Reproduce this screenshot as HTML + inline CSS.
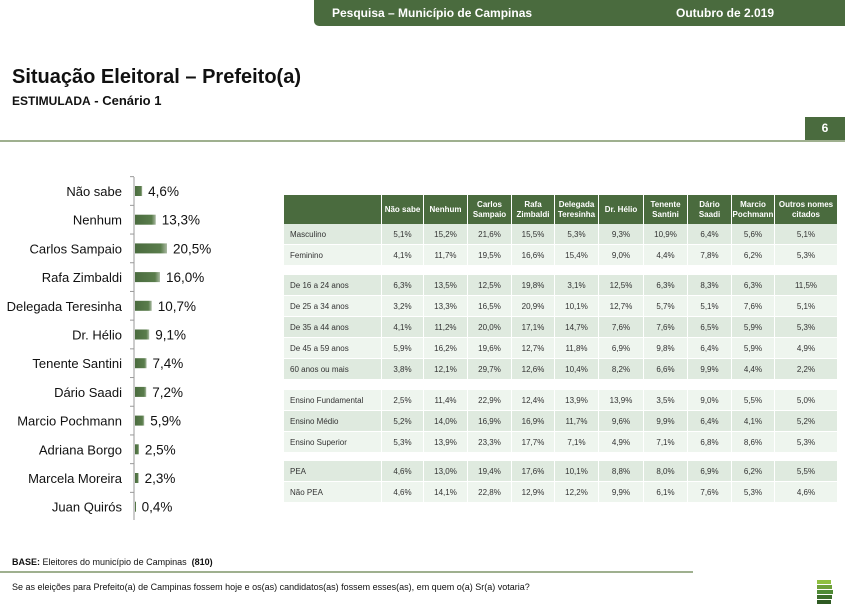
<!DOCTYPE html>
<html><head><meta charset="utf-8"><style>
body{margin:0;width:845px;height:606px;position:relative;background:#fff;font-family:"Liberation Sans",sans-serif;overflow:hidden}
.abs{position:absolute}
.hdr{left:314px;top:0;width:531px;height:26px;background:#4a6b3e;border-bottom-left-radius:5px;color:#fff;font-weight:bold;font-size:12px}
.cell{position:absolute;font-size:8px;color:#333;display:flex;align-items:center;justify-content:center;box-sizing:border-box}
.hc{background:#4a6b3e;color:#fff;font-weight:bold;text-align:center;line-height:10px}
</style></head><body>
<div class="abs hdr">
 <span class="abs" style="left:18px;top:6px">Pesquisa – Município de Campinas</span>
 <span class="abs" style="left:362px;top:6px">Outubro de 2.019</span>
</div>
<div class="abs" style="left:12px;top:66px;font-size:20px;font-weight:bold;color:#111">Situação Eleitoral – Prefeito(a)</div>
<div class="abs" style="left:12px;top:93px;font-size:13px;font-weight:bold;color:#111"><span style="font-size:12px">ESTIMULADA</span> - Cenário 1</div>
<div class="abs" style="left:805px;top:117px;width:40px;height:23px;background:#4a6b3e;color:#fff;font-weight:bold;font-size:12px;text-align:center;line-height:23px">6</div>
<div class="abs" style="left:0;top:140px;width:845px;height:2px;background:#9fb08f"></div>

<svg class="abs" style="left:0;top:170px" width="270" height="360" id="chart">
<defs><linearGradient id="bg" x1="0" y1="0" x2="1" y2="0"><stop offset="0" stop-color="#4a6b3e"/><stop offset="0.8" stop-color="#5a7d4c"/><stop offset="1" stop-color="#a8b8a0"/></linearGradient></defs>
</svg>

<div class="abs" id="table" style="left:0;top:0"></div>

<div class="abs" style="left:12px;top:557px;font-size:9px;color:#111"><b>BASE:</b> Eleitores do município de Campinas &nbsp;<b>(810)</b></div>
<div class="abs" style="left:0;top:571px;width:693px;height:2px;background:#9fb08f"></div>
<div class="abs" style="left:12px;top:582px;font-size:9px;color:#111">Se as eleições para Prefeito(a) de Campinas fossem hoje e os(as) candidatos(as) fossem esses(as), em quem o(a) Sr(a) votaria?</div>
<svg class="abs" style="left:817px;top:580px" width="16" height="26">
<rect x="0" y="0" width="14" height="4" fill="#8fbf3f"/><rect x="0" y="5" width="15" height="4" fill="#6ea03a"/><rect x="0" y="10" width="16" height="4" fill="#4f8a35"/><rect x="0" y="15" width="15" height="4" fill="#3d6e2c"/><rect x="0" y="20" width="14" height="4" fill="#2e5a22"/>
</svg>

<script>
const labels=["Não sabe","Nenhum","Carlos Sampaio","Rafa Zimbaldi","Delegada Teresinha","Dr. Hélio","Tenente Santini","Dário Saadi","Marcio Pochmann","Adriana Borgo","Marcela Moreira","Juan Quirós"];
const values=[4.6,13.3,20.5,16.0,10.7,9.1,7.4,7.2,5.9,2.5,2.3,0.4];
const ns="http://www.w3.org/2000/svg";
const svg=document.getElementById('chart');
const x0=135, pxPer=1.56, y0=21, step=28.7;
const xs=v=>v*pxPer, ys=i=>y0+i*step;
const ax=document.createElementNS(ns,'line');
ax.setAttribute('x1',x0-1);ax.setAttribute('x2',x0-1);ax.setAttribute('y1',7);ax.setAttribute('y2',350);ax.setAttribute('stroke','#999');


svg.appendChild(ax);
labels.forEach((l,i)=>{
 const y=ys(i);
 const tk=document.createElementNS(ns,'line');
 tk.setAttribute('x1',x0-5);tk.setAttribute('x2',x0-1);tk.setAttribute('y1',y-14.35);tk.setAttribute('y2',y-14.35);tk.setAttribute('stroke','#999');
 
 
 svg.appendChild(tk);
 const t=document.createElementNS(ns,'text');
 t.setAttribute('x',122);t.setAttribute('y',y+5);t.setAttribute('text-anchor','end');t.setAttribute('font-size','13');t.setAttribute('fill','#111');
 t.textContent=l;
 
 
 svg.appendChild(t);
 const r=document.createElementNS(ns,'rect');
 r.setAttribute('x',x0);r.setAttribute('y',y-5);r.setAttribute('width',Math.max(xs(values[i]),1));r.setAttribute('height',10);r.setAttribute('fill','url(#bg)');
 
 
 svg.appendChild(r);
 const v=document.createElementNS(ns,'text');
 v.setAttribute('x',x0+xs(values[i])+6);v.setAttribute('y',y+5);v.setAttribute('font-size','13.5');v.setAttribute('fill','#111');
 v.textContent=values[i].toFixed(1).replace('.',',')+'%';
 
 
 svg.appendChild(v);
});

const colHeads=["Não sabe","Nenhum","Carlos<br>Sampaio","Rafa<br>Zimbaldi","Delegada<br>Teresinha","Dr. Hélio","Tenente<br>Santini","Dário<br>Saadi","Marcio<br>Pochmann","Outros nomes<br>citados"];
const rowLabels=["Masculino","Feminino","De 16 a 24 anos","De 25 a 34 anos","De 35 a 44 anos","De 45 a 59 anos","60 anos ou mais","Ensino Fundamental","Ensino Médio","Ensino Superior","PEA","Não PEA"];
const rowData=[
["5,1%","15,2%","21,6%","15,5%","5,3%","9,3%","10,9%","6,4%","5,6%","5,1%"],
["4,1%","11,7%","19,5%","16,6%","15,4%","9,0%","4,4%","7,8%","6,2%","5,3%"],
["6,3%","13,5%","12,5%","19,8%","3,1%","12,5%","6,3%","8,3%","6,3%","11,5%"],
["3,2%","13,3%","16,5%","20,9%","10,1%","12,7%","5,7%","5,1%","7,6%","5,1%"],
["4,1%","11,2%","20,0%","17,1%","14,7%","7,6%","7,6%","6,5%","5,9%","5,3%"],
["5,9%","16,2%","19,6%","12,7%","11,8%","6,9%","9,8%","6,4%","5,9%","4,9%"],
["3,8%","12,1%","29,7%","12,6%","10,4%","8,2%","6,6%","9,9%","4,4%","2,2%"],
["2,5%","11,4%","22,9%","12,4%","13,9%","13,9%","3,5%","9,0%","5,5%","5,0%"],
["5,2%","14,0%","16,9%","16,9%","11,7%","9,6%","9,9%","6,4%","4,1%","5,2%"],
["5,3%","13,9%","23,3%","17,7%","7,1%","4,9%","7,1%","6,8%","8,6%","5,3%"],
["4,6%","13,0%","19,4%","17,6%","10,1%","8,8%","8,0%","6,9%","6,2%","5,5%"],
["4,6%","14,1%","22,8%","12,9%","12,2%","9,9%","6,1%","7,6%","5,3%","4,6%"]];
const edges=[284,382,424,468,512,555,599,644,688,732,775,838];
const rowTops=[224,245,275,296,317,338,359,390,411,432,461,482];
const tb=document.getElementById('table');
function cell(x,y,w,h,html,cls,bg,left){
 const d=document.createElement('div');
 d.className='cell '+cls;
 d.style.cssText=`left:${x}px;top:${y}px;width:${w}px;height:${h}px;`+(bg?`background:${bg};`:'')+(left?'justify-content:flex-start;padding-left:6px;':'');
 d.innerHTML=html;
 tb.appendChild(d);return d;
}
const hd=cell(edges[0],195,edges[1]-edges[0]-1,29,'','hc');


colHeads.forEach((h,j)=>{
 const d=cell(edges[j+1],195,edges[j+2]-edges[j+1]-1,29,h,'hc');
 
 
});
rowLabels.forEach((l,i)=>{
 const bg=i%2===0?'#dfeadf':'#eef5ee';
 const y=rowTops[i];
 const d=cell(edges[0],y,edges[1]-edges[0]-1,20,l,'',bg,true);
 
 
 rowData[i].forEach((v,j)=>{
  const c=cell(edges[j+1],y,edges[j+2]-edges[j+1]-1,20,v,'',bg);
  
  
 });
});
</script>
</body></html>
